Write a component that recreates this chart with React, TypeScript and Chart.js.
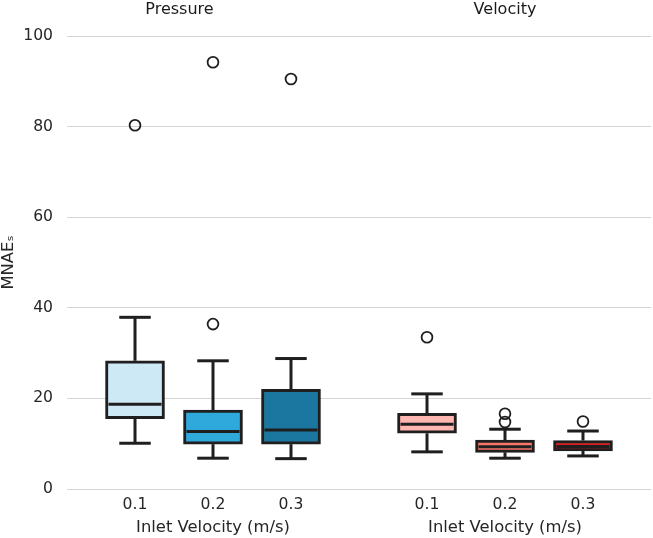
import React, { useEffect, useRef } from 'react';
import { Chart, registerables } from 'chart.js';

Chart.register(...registerables);

// ---------- data ----------
const categories = ['0.1', '0.2', '0.3'];
const positions = [0, 1, 2];
const panelTitles = ['Pressure', 'Velocity'];
const yTicks = [0, 20, 40, 60, 80, 100];
const xAxisTitle = 'Inlet Velocity (m/s)';
const yAxisTitle = 'MNAEₛ';

const pressureWhiskerLow = [10.1, 6.8, 6.7];
const pressureQ1 = [15.5, 9.9, 9.9];
const pressureMedian = [18.7, 12.7, 13.0];
const pressureQ3 = [28.3, 17.4, 22.0];
const pressureWhiskerHigh = [37.9, 28.3, 28.8];
const pressureOutliers = [[80.3], [36.4, 94.2], [90.5]];

const velocityWhiskerLow = [8.2, 6.8, 7.3];
const velocityQ1 = [12.3, 8.1, 8.4];
const velocityMedian = [14.3, 9.3, 9.4];
const velocityQ3 = [16.7, 10.8, 10.7];
const velocityWhiskerHigh = [21.0, 13.2, 12.8];
const velocityOutliers = [[33.5], [16.6, 14.8], [14.9]];

const pressureColors = ['#cde9f5', '#2fa8dc', '#1c77a0'];
const velocityColors = ['#ffb5b0', '#f8766b', '#d81b1b'];

// ---------- styles ----------
const EDGE = '#1f1f1f';
const TEXT = '#262626';
const GRID = '#d4d4d4';
const BOX_W = 59;
const LW = 3;
const FONT = 'DejaVu Sans';
const X_MIN = -0.872;
const X_MAX = 2.872;

Chart.defaults.font.family = FONT;

const boxPlugin = {
  id: 'boxWhiskers',
  afterDatasetsDraw(chart: any, _args: any, opts: any) {
    const { q1, q3, med, lo, hi } = opts;
    const xs = chart.scales.x;
    const ys = chart.scales.y;
    const ctx = chart.ctx;
    ctx.save();
    ctx.strokeStyle = EDGE;
    ctx.lineWidth = LW;
    ctx.lineCap = 'butt';
    const seg = (x1: number, y1: number, x2: number, y2: number) => {
      ctx.beginPath();
      ctx.moveTo(x1, y1);
      ctx.lineTo(x2, y2);
      ctx.stroke();
    };
    positions.forEach((p, i) => {
      const x = xs.getPixelForValue(p);
      const half = BOX_W / 2;
      const cap = BOX_W / 4 + 1;
      const yq1 = ys.getPixelForValue(q1[i]);
      const yq3 = ys.getPixelForValue(q3[i]);
      const ylo = ys.getPixelForValue(lo[i]);
      const yhi = ys.getPixelForValue(hi[i]);
      const ym = ys.getPixelForValue(med[i]);
      seg(x, yq3, x, yhi);
      seg(x - cap, yhi, x + cap, yhi);
      seg(x, yq1, x, ylo);
      seg(x - cap, ylo, x + cap, ylo);
      seg(x - half + LW, ym, x + half - LW, ym);
    });
    ctx.restore();
  },
};

type PanelProps = {
  title: string;
  showY: boolean;
  q1: number[];
  q3: number[];
  med: number[];
  lo: number[];
  hi: number[];
  outliers: number[][];
  colors: string[];
  width: number;
  padRight: number;
  yAxisWidth: number;
};

function Panel(props: PanelProps) {
  const ref = useRef<HTMLCanvasElement | null>(null);
  useEffect(() => {
    const { title, showY, q1, q3, med, lo, hi, outliers, colors, padRight, yAxisWidth } = props;
    const boxData = positions.map((p, i) => ({ x: p, y: [q1[i], q3[i]] }));
    const outlierData = positions.flatMap((p, i) => outliers[i].map((v) => ({ x: p, y: v })));
    const chart = new Chart(ref.current as HTMLCanvasElement, {
      type: 'bar',
      data: {
        datasets: [
          {
            type: 'bar',
            data: boxData as any,
            backgroundColor: colors,
            borderColor: EDGE,
            borderWidth: LW,
            borderSkipped: false,
            barThickness: BOX_W,
            order: 2,
          } as any,
          {
            type: 'scatter',
            data: outlierData,
            pointRadius: 5.4,
            pointHoverRadius: 5.4,
            pointBorderWidth: 1.8,
            pointBackgroundColor: 'rgba(0,0,0,0)',
            pointBorderColor: EDGE,
            order: 1,
          } as any,
        ],
      },
      options: {
        animation: false,
        responsive: false,
        maintainAspectRatio: false,
        layout: { autoPadding: false, padding: { left: 0, right: padRight, top: 0, bottom: 0 } },
        plugins: {
          legend: { display: false },
          tooltip: { enabled: false },
          title: {
            display: true,
            text: title,
            color: '#1a1a1a',
            font: { size: 16, weight: 'normal', lineHeight: 1 },
            padding: { top: 2, bottom: 18 },
          },
          boxWhiskers: { q1, q3, med, lo, hi },
        } as any,
        scales: {
          x: {
            type: 'linear',
            offset: false,
            min: X_MIN,
            max: X_MAX,
            afterBuildTicks: (s: any) => {
              s.ticks = positions.map((v) => ({ value: v }));
            },
            afterFit: (s: any) => {
              s.height = 49;
              s.paddingLeft = 0;
              s.paddingRight = 0;
            },
            ticks: {
              color: TEXT,
              font: { size: 15.6 },
              padding: -1,
              autoSkip: false,
              maxRotation: 0,
              callback: (v: any) => {
                const idx = positions.indexOf(Number(v));
                return idx >= 0 ? categories[idx] : '';
              },
            },
            grid: { display: false, offset: false },
            border: { display: false },
            title: {
              display: true,
              text: xAxisTitle,
              color: TEXT,
              font: { size: 16.4 },
              padding: { top: 0, bottom: 0 },
            },
          },
          y: {
            type: 'linear',
            min: 0,
            max: 100,
            afterBuildTicks: (s: any) => {
              s.ticks = yTicks.map((v) => ({ value: v }));
            },
            afterFit: (s: any) => {
              s.width = yAxisWidth;
            },
            ticks: {
              display: showY,
              color: TEXT,
              font: { size: 15.6 },
              padding: 14,
            },
            grid: { color: GRID, lineWidth: 1, drawTicks: false },
            border: { display: false },
            title: {
              display: showY,
              text: yAxisTitle,
              color: TEXT,
              font: { size: 16.4, lineHeight: 1.05 },
              padding: 0,
            },
          },
        },
      },
      plugins: [boxPlugin],
    } as any);
    return () => chart.destroy();
  }, []);
  return (
    <canvas
      ref={ref}
      width={props.width}
      height={538}
      style={{ display: 'block', width: props.width, height: 538 }}
    />
  );
}

export default function App() {
  return (
    <div style={{ position: 'absolute', left: 0, top: 0, width: 653, height: 538, display: 'flex', background: '#fff' }}>
      <Panel
        title={panelTitles[0]}
        showY={true}
        q1={pressureQ1}
        q3={pressureQ3}
        med={pressureMedian}
        lo={pressureWhiskerLow}
        hi={pressureWhiskerHigh}
        outliers={pressureOutliers}
        colors={pressureColors}
        width={359}
        padRight={0}
        yAxisWidth={67}
      />
      <Panel
        title={panelTitles[1]}
        showY={false}
        q1={velocityQ1}
        q3={velocityQ3}
        med={velocityMedian}
        lo={velocityWhiskerLow}
        hi={velocityWhiskerHigh}
        outliers={velocityOutliers}
        colors={velocityColors}
        width={294}
        padRight={2}
        yAxisWidth={0}
      />
    </div>
  );
}
